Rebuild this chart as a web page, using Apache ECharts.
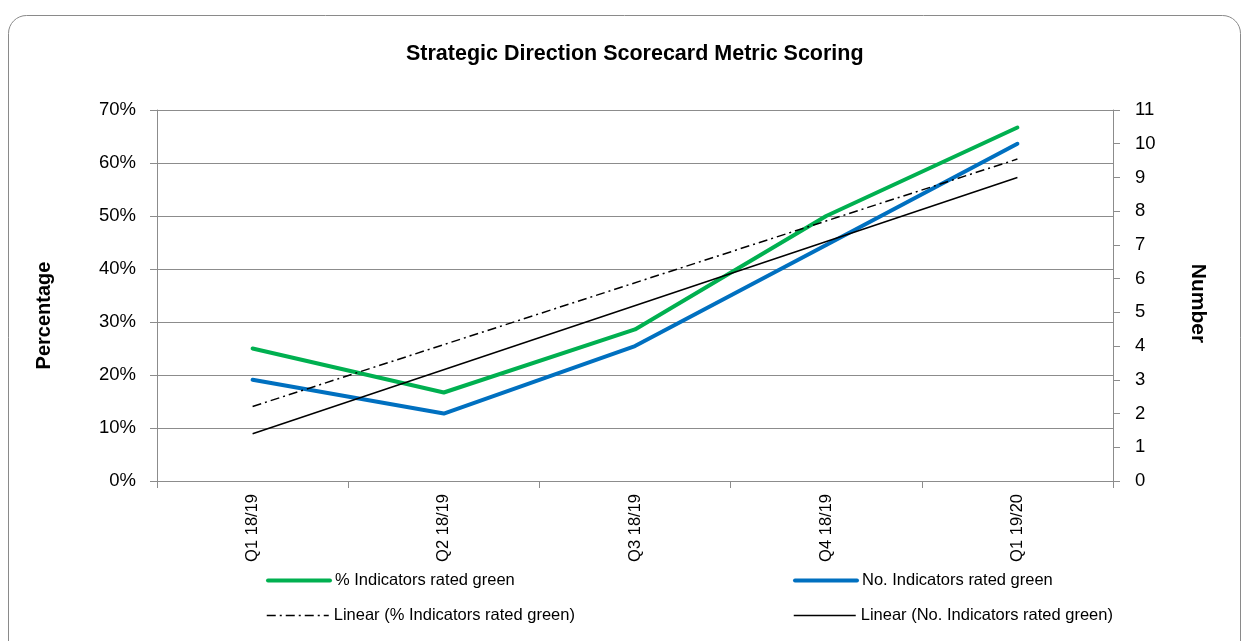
<!DOCTYPE html>
<html>
<head>
<meta charset="utf-8">
<script src="https://cdn.jsdelivr.net/npm/echarts@6/dist/echarts.min.js"></script>
<style>
  html, body { margin: 0; padding: 0; background: #ffffff; }
  #chart { width: 1249px; height: 641px; }
</style>
</head>
<body>
<div id="chart"></div>
<script>
// Reporting periods
const quarters = ['Q1 18/19', 'Q2 18/19', 'Q3 18/19', 'Q4 18/19', 'Q1 19/20'];
// Share of indicators rated green (%)
const pctGreen = [25.0, 16.7, 28.6, 50.0, 66.7];
// Count of indicators rated green
const numGreen = [3, 2, 4, 7, 10];

const seriesNames = {
  pct: '% Indicators rated green',
  num: 'No. Indicators rated green',
  pctTrend: 'Linear (% Indicators rated green)',
  numTrend: 'Linear (No. Indicators rated green)'
};

// Least-squares straight line through a series, kept as its two end points
function linearTrend(values) {
  const n = values.length;
  const xs = values.map((_, i) => i + 1);
  const mx = xs.reduce((a, b) => a + b, 0) / n;
  const my = values.reduce((a, b) => a + b, 0) / n;
  let sxy = 0, sxx = 0;
  for (let i = 0; i < n; i++) {
    sxy += (xs[i] - mx) * (values[i] - my);
    sxx += (xs[i] - mx) * (xs[i] - mx);
  }
  const slope = sxy / sxx;
  const out = new Array(n).fill(null);
  out[0] = my + slope * (xs[0] - mx);
  out[n - 1] = my + slope * (xs[n - 1] - mx);
  return out;
}

const FONT = 'Liberation Sans, Arial, sans-serif';
const GRID_GREY = '#8c8c8c';
const GREEN = '#00b050';
const BLUE = '#0070c0';
const TREND_DASH = [9, 4, 2, 4];

const chart = echarts.init(document.getElementById('chart'), null, { renderer: 'canvas' });

// One legend block per entry so the 2 x 2 arrangement can be placed freely
function legendItem(name, left, top, lineStyle) {
  return {
    data: [name],
    left: left,
    top: top,
    padding: 0,
    itemWidth: 62,
    itemHeight: 14,
    selectedMode: false,
    itemStyle: { opacity: 0 },
    lineStyle: lineStyle,
    textStyle: { fontFamily: FONT, fontSize: 16.5, color: '#000' }
  };
}

chart.setOption({
  backgroundColor: '#ffffff',
  animation: false,
  title: {
    text: 'Strategic Direction Scorecard Metric Scoring',
    left: 406,
    top: 43,
    padding: 0,
    textStyle: { fontFamily: FONT, fontSize: 21.5, fontWeight: 'bold', color: '#000' }
  },
  graphic: [
    {
      type: 'rect',
      silent: true,
      shape: { x: 8.5, y: 15.5, width: 1232, height: 660, r: 18 },
      style: { fill: null, stroke: '#8a8a8a', lineWidth: 1 }
    },
    {
      type: 'text',
      silent: true,
      x: 44, y: 315.5, rotation: Math.PI / 2,
      style: {
        text: 'Percentage', fill: '#000', align: 'center', verticalAlign: 'middle',
        font: 'bold 20px ' + FONT
      }
    },
    {
      type: 'text',
      silent: true,
      x: 1198, y: 303.5, rotation: -Math.PI / 2,
      style: {
        text: 'Number', fill: '#000', align: 'center', verticalAlign: 'middle',
        font: 'bold 21px ' + FONT
      }
    }
  ],
  legend: [
    legendItem(seriesNames.pct, 266, 572, { width: 4, cap: 'round' }),
    legendItem(seriesNames.num, 793, 572, { width: 4, cap: 'round' }),
    legendItem(seriesNames.pctTrend, 266, 607, { width: 1.5, type: TREND_DASH }),
    legendItem(seriesNames.numTrend, 793, 607, { width: 1.5 })
  ],
  grid: { left: 157, right: 136, top: 110, bottom: 160, containLabel: false },
  xAxis: {
    type: 'category',
    data: quarters,
    boundaryGap: true,
    axisLine: { show: true, lineStyle: { color: GRID_GREY, width: 1 } },
    axisTick: { show: true, length: 7, alignWithLabel: false, lineStyle: { color: GRID_GREY } },
    axisLabel: { rotate: 90, margin: 13, fontFamily: FONT, fontSize: 16.5, color: '#000' },
    splitLine: { show: false }
  },
  yAxis: [
    {
      type: 'value',
      min: 0, max: 70, interval: 10,
      position: 'left',
      axisLine: { show: true, lineStyle: { color: GRID_GREY, width: 1 } },
      axisTick: { show: true, length: 7, lineStyle: { color: GRID_GREY } },
      axisLabel: { formatter: '{value}%', margin: 21, fontFamily: FONT, fontSize: 18.5, color: '#000' },
      splitLine: { show: true, lineStyle: { color: GRID_GREY, width: 1 } }
    },
    {
      type: 'value',
      min: 0, max: 11, interval: 1,
      position: 'right',
      axisLine: { show: true, lineStyle: { color: GRID_GREY, width: 1 } },
      axisTick: { show: true, length: 7, lineStyle: { color: GRID_GREY } },
      axisLabel: { margin: 22, fontFamily: FONT, fontSize: 18.5, color: '#000' },
      splitLine: { show: false }
    }
  ],
  series: [
    {
      name: seriesNames.pct,
      type: 'line',
      yAxisIndex: 0,
      data: pctGreen,
      symbol: 'none',
      lineStyle: { color: GREEN, width: 4, cap: 'round', join: 'round' },
      itemStyle: { color: GREEN },
      z: 3
    },
    {
      name: seriesNames.num,
      type: 'line',
      yAxisIndex: 1,
      data: numGreen,
      symbol: 'none',
      lineStyle: { color: BLUE, width: 4, cap: 'round', join: 'round' },
      itemStyle: { color: BLUE },
      z: 3
    },
    {
      name: seriesNames.pctTrend,
      type: 'line',
      yAxisIndex: 0,
      data: linearTrend(pctGreen),
      connectNulls: true,
      symbol: 'none',
      lineStyle: { color: '#000', width: 1.5, type: TREND_DASH },
      itemStyle: { color: '#000' },
      z: 4
    },
    {
      name: seriesNames.numTrend,
      type: 'line',
      yAxisIndex: 1,
      data: linearTrend(numGreen),
      connectNulls: true,
      symbol: 'none',
      lineStyle: { color: '#000', width: 1.5 },
      itemStyle: { color: '#000' },
      z: 4
    }
  ]
});
</script>
</body>
</html>
